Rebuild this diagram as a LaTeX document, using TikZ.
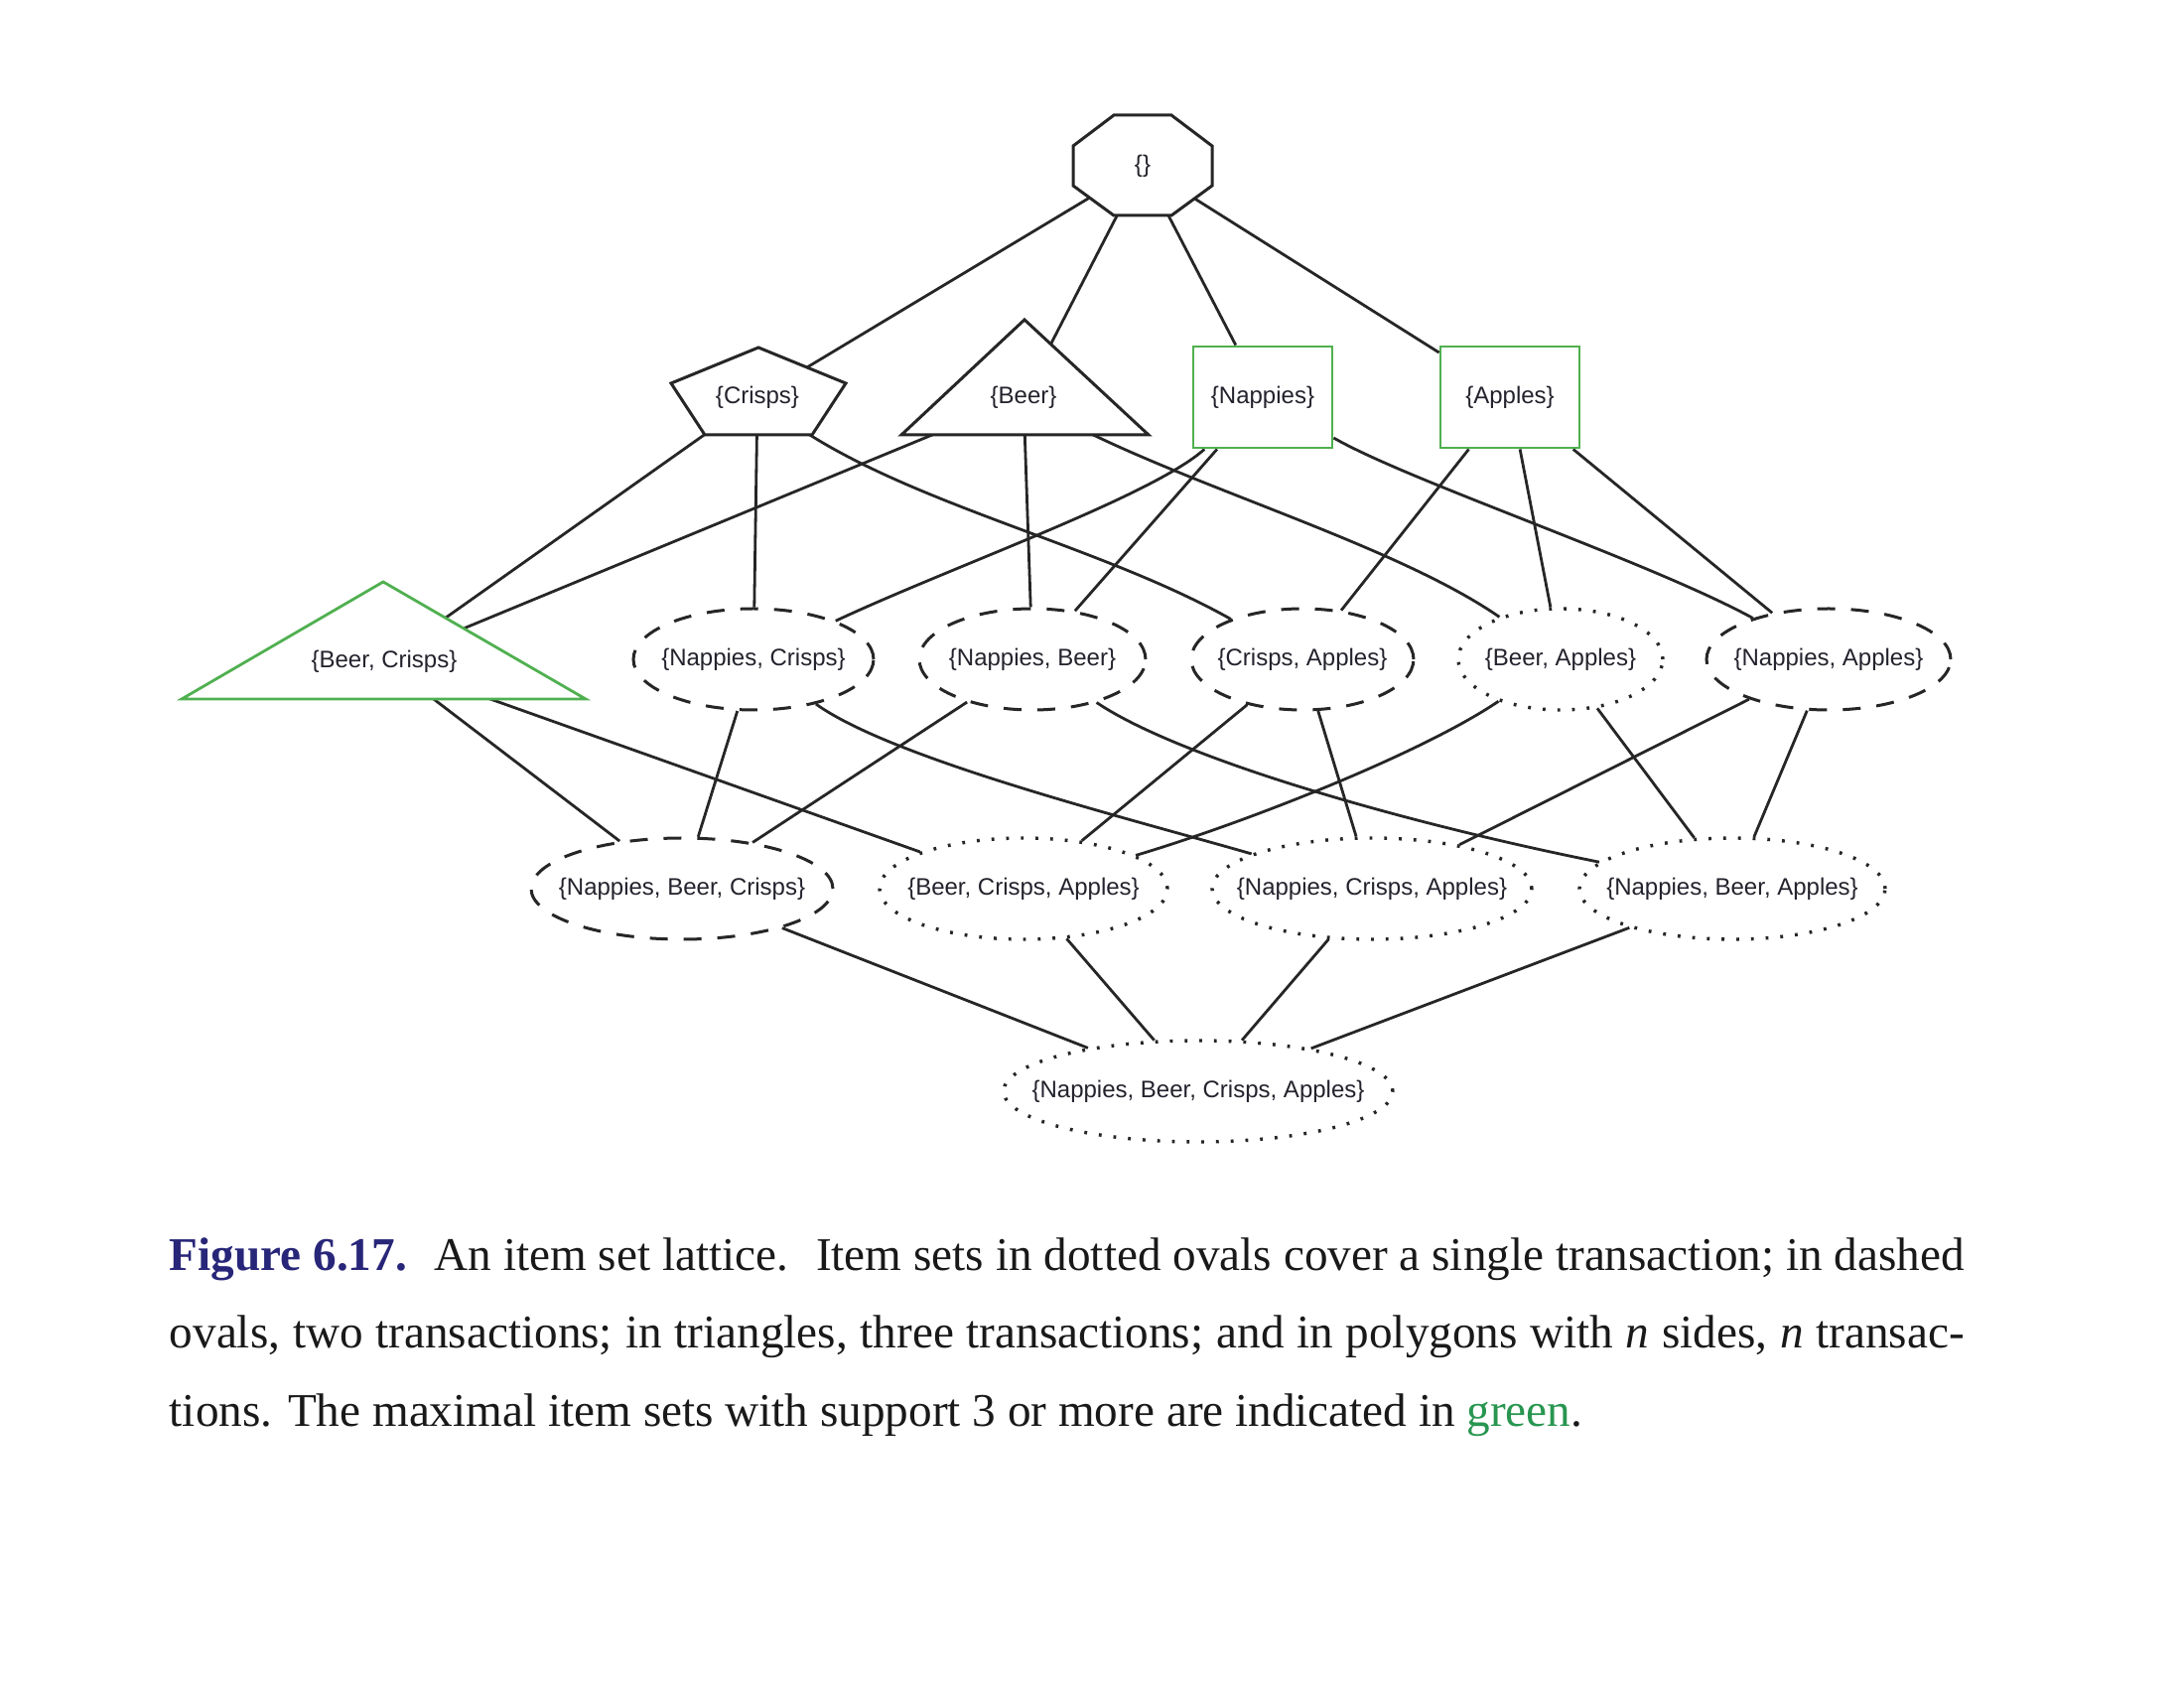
\documentclass[tikz,border=0pt]{standalone}
\usepackage{fontspec}
\usetikzlibrary{shapes.geometric}
\newfontfamily\nodefont{Liberation Sans}
\newfontfamily\capfont{Liberation Serif}
\definecolor{boxgreen}{RGB}{80,176,80}
\definecolor{capgreen}{RGB}{40,150,80}
\definecolor{capnavy}{RGB}{40,38,120}
\definecolor{inkgray}{RGB}{35,35,45}
\pgfdeclarelayer{background}
\pgfsetlayers{background,main}
\newcommand{\lbl}[1]{\makebox[0pt]{#1}}
\begin{document}
\begin{tikzpicture}[x=0.25pt,y=-0.25pt,
  edge/.style={draw=black!85,line width=0.7pt},
  shapeline/.style={draw=black!85,line width=0.75pt,fill=white,line join=miter},
  greenline/.style={draw=boxgreen,line width=0.7pt,fill=white},
  txt/.style={font=\nodefont\fontsize{6pt}{7.2pt}\selectfont,text=inkgray,inner sep=1pt},
  dashedoval/.style={txt,ellipse,draw=black!85,line width=0.75pt,fill=white,inner sep=0pt,minimum height=25.5pt,dash pattern=on 4.5pt off 4pt},
  dottedoval/.style={txt,ellipse,draw=black!85,line width=0.85pt,fill=white,inner sep=0pt,minimum height=25.5pt,dash pattern=on 0.7pt off 3pt},
  greenbox/.style={txt,rectangle,draw=boxgreen,line width=0.7pt,fill=white,minimum width=35pt,minimum height=25.5pt},
  capline/.style={font=\capfont\fontsize{11.8pt}{14pt}\selectfont,anchor=base west,inner sep=0pt,text=black!90}
]
\begin{pgfonlayer}{background}
\fill[white] (0,0) rectangle (2200,1700);
\end{pgfonlayer}
\useasboundingbox (0,0) rectangle (2200,1700);

% polygon outlines (drawn over the connectors)
\path[shapeline] (1122,116) -- (1180,116) -- (1221,147) -- (1221,187) -- (1180,217) -- (1122,217) -- (1081,187) -- (1081,147) -- cycle;
\path[shapeline] (764,350) -- (852,386) -- (818,438) -- (710,438) -- (676,386) -- cycle;
\path[shapeline] (1032,322) -- (1157,438) -- (908,438) -- cycle;
\path[greenline] (386,586) -- (590,704) -- (183,704) -- cycle;

% level 0 and 1
\node[txt] (top) at (1151,167) {\{\}};
\node[txt] (crisps) at (763,400) {\{Crisps\}};
\node[txt] (beer) at (1031,400) {\{Beer\}};
\node[greenbox] (nappies) at (1272,400) {\{Nappies\}};
\node[greenbox] (apples) at (1521,400) {\{Apples\}};

% level 2
\node[txt] (bc) at (387,666) {\{Beer, Crisps\}};
\node[dashedoval,minimum width=60.5pt] (nc) at (759,664) {\lbl{\{Nappies, Crisps\}}};
\node[dashedoval,minimum width=57pt] (nb) at (1040,664) {\lbl{\{Nappies, Beer\}}};
\node[dashedoval,minimum width=56pt] (ca) at (1312,664) {\lbl{\{Crisps, Apples\}}};
\node[dottedoval,minimum width=51.5pt] (ba) at (1572,664) {\lbl{\{Beer, Apples\}}};
\node[dashedoval,minimum width=61.5pt] (na) at (1842,664) {\lbl{\{Nappies, Apples\}}};

% level 3
\node[dashedoval,minimum width=76pt] (nbc) at (687,895) {\lbl{\{Nappies, Beer, Crisps\}}};
\node[dottedoval,minimum width=72.5pt] (bca) at (1031,895) {\lbl{\{Beer, Crisps, Apples\}}};
\node[dottedoval,minimum width=80.5pt] (nca) at (1382,895) {\lbl{\{Nappies, Crisps, Apples\}}};
\node[dottedoval,minimum width=77pt] (nba) at (1745,895) {\lbl{\{Nappies, Beer, Apples\}}};

% level 4
\node[dottedoval,minimum width=98pt] (all) at (1207,1099) {\lbl{\{Nappies, Beer, Crisps, Apples\}}};

% connectors
\begin{pgfonlayer}{background}
\draw[edge] (top) -- (crisps);
\draw[edge] (top) -- (beer);
\draw[edge] (top) -- (nappies);
\draw[edge] (top) -- (apples);
\draw[edge] (crisps) -- (bc);
\draw[edge] (crisps) -- (nc);
\draw[edge] (crisps) .. controls (900,505) and (1100,545) .. (ca);
\draw[edge] (beer) -- (bc);
\draw[edge] (beer) -- (nb);
\draw[edge] (beer) .. controls (1180,485) and (1400,545) .. (ba);
\draw[edge] (nappies) .. controls (1160,500) and (960,570) .. (nc);
\draw[edge] (nappies) -- (nb);
\draw[edge] (nappies) .. controls (1420,485) and (1660,565) .. (na);
\draw[edge] (apples) -- (ca);
\draw[edge] (apples) -- (ba);
\draw[edge] (apples) -- (na);
\draw[edge] (bc) -- (nbc);
\draw[edge] (bc) -- (bca);
\draw[edge] (nc) -- (nbc);
\draw[edge] (nc) .. controls (900,765) and (1140,825) .. (nca);
\draw[edge] (nb) -- (nbc);
\draw[edge] (nb) .. controls (1190,765) and (1420,830) .. (nba);
\draw[edge] (ca) -- (bca);
\draw[edge] (ca) -- (nca);
\draw[edge] (ba) .. controls (1430,760) and (1250,830) .. (bca);
\draw[edge] (ba) -- (nba);
\draw[edge] (na) -- (nca);
\draw[edge] (na) -- (nba);
\draw[edge] (nbc) -- (all);
\draw[edge] (bca) -- (all);
\draw[edge] (nca) -- (all);
\draw[edge] (nba) -- (all);
\end{pgfonlayer}

% caption
\node[capline] (cap1) at (170,1280) {\makebox[452pt][s]{\textcolor{capnavy}{\textbf{Figure 6.17.}}\hspace{0.25em} An item set lattice.\hspace{0.25em} Item sets in dotted ovals cover a single transaction; in dashed}};
\node[capline] (cap2) at (170,1358) {\makebox[452pt][s]{ovals, two transactions; in triangles, three transactions; and in polygons with \textit{n} sides, \textit{n} transac-}};
\node[capline] (cap3) at (170,1437) {tions. The maximal item sets with support 3 or more are indicated in \textcolor{capgreen}{green}.};
\end{tikzpicture}
\end{document}
